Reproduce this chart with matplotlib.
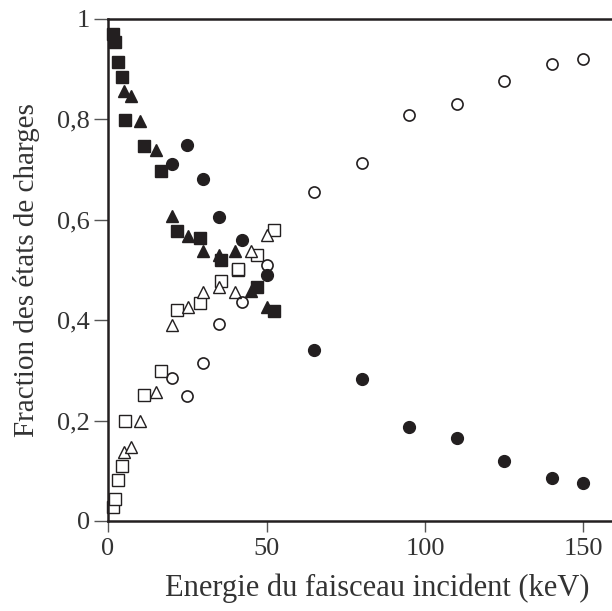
import matplotlib
matplotlib.use("Agg")
import matplotlib.pyplot as plt

# charge-state fractions (energy in keV)
sq_x = [1.6, 2.2, 3.2, 4.3, 5.3, 11.4, 16.7, 21.8, 29.0, 35.7, 41.0, 47.0, 52.4]
sq_fill = [0.970, 0.954, 0.915, 0.885, 0.799, 0.746, 0.698, 0.577, 0.563, 0.519, 0.499, 0.467, 0.419]
sq_open = [0.028, 0.044, 0.082, 0.109, 0.199, 0.250, 0.298, 0.421, 0.435, 0.479, 0.501, 0.529, 0.579]

tri_x = [5.1, 7.3, 10.1, 15.2, 20.2, 25.3, 30.0, 35.0, 40.1, 45.0, 50.0]
tri_fill = [0.857, 0.847, 0.797, 0.738, 0.608, 0.567, 0.537, 0.529, 0.537, 0.459, 0.427]
tri_open = [0.137, 0.147, 0.199, 0.256, 0.390, 0.427, 0.457, 0.467, 0.457, 0.537, 0.569]

circ_x = [20.2, 24.9, 30.0, 35.0, 42.3, 50.0, 65, 80, 95, 110, 125, 140, 150]
circ_fill = [0.712, 0.748, 0.682, 0.606, 0.559, 0.489, 0.340, 0.282, 0.187, 0.165, 0.119, 0.085, 0.075]
circ_open = [0.284, 0.248, 0.314, 0.392, 0.437, 0.509, 0.656, 0.714, 0.809, 0.831, 0.877, 0.911, 0.920]

x_ticks = [0, 50, 100, 150]
y_ticks = [0, 0.2, 0.4, 0.6, 0.8, 1]
y_labels = ["0", "0,2", "0,4", "0,6", "0,8", "1"]

ink = "#231f20"
txt = "#333333"
plt.rcParams["font.family"] = ["Liberation Serif", "DejaVu Serif"]

fig = plt.figure(figsize=(6.12, 6.11), dpi=100)
ax = fig.add_axes([0.1765, 0.1473, 0.8235, 0.8217])

ms = 8.5
ax.plot(sq_x, sq_fill, "s", ms=ms, color=ink, mec=ink, clip_on=False)
ax.plot(tri_x, tri_fill, "^", ms=ms, color=ink, mec=ink, clip_on=False)
ax.plot(circ_x, circ_fill, "o", ms=ms, color=ink, mec=ink, clip_on=False)
ax.plot(sq_x, sq_open, "s", ms=ms, mfc="white", mec=ink, mew=1.0, clip_on=False)
ax.plot(tri_x, tri_open, "^", ms=ms, mfc="white", mec=ink, mew=1.0, clip_on=False)
ax.plot(circ_x, circ_open, "o", ms=ms - 0.5, mfc="none", mec=ink, mew=1.2, clip_on=False)

ax.set_xlim(0, 159)
ax.set_ylim(0, 1)
ax.set_xticks(x_ticks)
ax.set_yticks(y_ticks)
ax.set_yticklabels(y_labels)

for side in ["left", "bottom", "top"]:
    ax.spines[side].set_linewidth(1.8)
    ax.spines[side].set_color(ink)
ax.spines["right"].set_visible(False)

ax.tick_params(direction="out", width=1.0, colors="#555555",
               labelsize=19, labelcolor=txt)
ax.tick_params(axis="y", length=10, pad=3)
ax.tick_params(axis="x", length=8, pad=4)

ax.set_xlabel("Energie du faisceau incident (keV)", fontsize=22, color=txt, labelpad=10)
ax.xaxis.label.set_x(0.535)
ax.set_ylabel("Fraction des états de charges", fontsize=21, color=txt, labelpad=12)

fig.savefig("out.png", dpi=100)
